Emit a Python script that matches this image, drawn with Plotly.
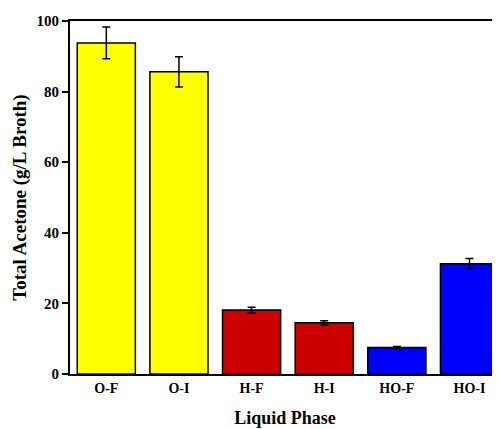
import plotly.graph_objects as go

categories = ["O-F", "O-I", "H-F", "H-I", "HO-F", "HO-I"]
values = [93.8, 85.6, 18.1, 14.5, 7.5, 31.2]
errors = [4.5, 4.3, 0.8, 0.6, 0.3, 1.5]
colors = ["#FFFF00", "#FFFF00", "#CC0000", "#CC0000", "#0000FF", "#0000FF"]

font_family = "Liberation Serif"

fig = go.Figure(go.Bar(
    x=categories, y=values,
    marker=dict(color=colors, line=dict(color="black", width=1.5)),
    width=0.8,
    error_y=dict(type="data", array=errors, color="black", thickness=1.5, width=4),
))

fig.update_layout(
    width=492, height=421,
    margin=dict(l=62, r=0, t=13, b=55),
    plot_bgcolor="white", paper_bgcolor="white",
    showlegend=False,
    font=dict(family=font_family, color="black"),
    xaxis=dict(
        range=[-0.5, 5.42],
        showline=True, linecolor="black", linewidth=2, mirror=True,
        ticks="", showgrid=False, automargin=False,
        tickfont=dict(size=14, family=font_family, color="black"),
        title=dict(text="<b>Liquid Phase</b>", font=dict(size=18, family=font_family), standoff=17),
        tickprefix="<b>", ticksuffix="</b>",
    ),
    yaxis=dict(
        range=[0, 100], dtick=20, automargin=False,
        showline=True, linecolor="black", linewidth=2, mirror=False,
        ticks="outside", ticklen=6, tickwidth=2, tickcolor="black",
        showgrid=False, zeroline=False,
        tickfont=dict(size=15, family=font_family, color="black"),
        tickprefix="<b>", ticksuffix="</b>",
        title=dict(text="<b>Total Acetone (g/L Broth)</b>", font=dict(size=19, family=font_family), standoff=5),
    ),
)

fig.write_html("out.html")
